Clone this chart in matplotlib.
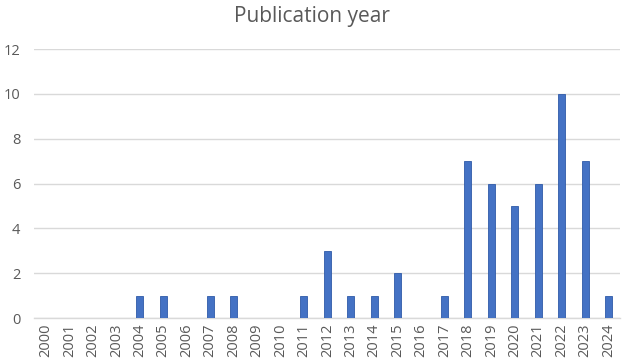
import matplotlib
matplotlib.use("Agg")
import matplotlib.pyplot as plt

years = [str(y) for y in range(2000, 2025)]
counts = [0, 0, 0, 0, 1, 1, 0, 1, 1, 0, 0, 1, 3, 1, 1, 2, 0, 1, 7, 6, 5, 6, 10, 7, 1]

plt.rcParams['font.family'] = ['Open Sans', 'DejaVu Sans']

fig = plt.figure(figsize=(6.24, 3.64), dpi=100)
ax = fig.add_axes([0.055, 0.126, 0.939, 0.739])

x = range(len(years))
ax.bar(x, counts, width=0.3, color='#4472C4', edgecolor='#2F5AA8', linewidth=0.6, zorder=3)

ax.set_ylim(0, 12)
ax.set_yticks(range(0, 13, 2))
ax.set_xlim(-0.5, len(years) - 0.5)
ax.set_xticks(list(x))
ax.set_xticklabels(years, rotation=90)
ax.grid(axis='y', color='#D9D9D9', linewidth=1, zorder=0)
for s in ['top', 'right', 'left']:
    ax.spines[s].set_visible(False)
ax.spines['bottom'].set_color('#D9D9D9')
ax.spines['bottom'].set_linewidth(1)
ax.tick_params(length=0, labelsize=10.5, colors='#595959')
ax.tick_params(axis='x', pad=4)
ax.tick_params(axis='y', pad=10)

fig.text(0.5, 0.955, 'Publication year', ha='center', va='center', fontsize=15, color='#595959')

fig.savefig('out.png', dpi=100)
